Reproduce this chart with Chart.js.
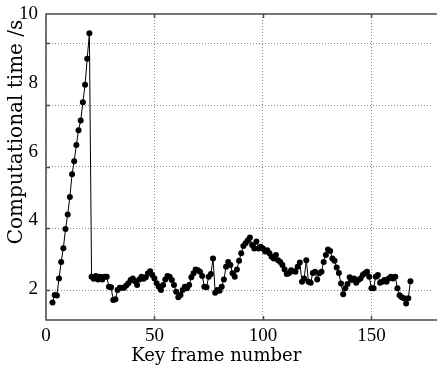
<!DOCTYPE html>
<html>
<head>
<meta charset="utf-8">
<script src="https://cdn.jsdelivr.net/npm/chart.js@4/dist/chart.umd.min.js"></script>
<style>
  html, body { margin: 0; padding: 0; background: #fff; }
  canvas { display: block; }
</style>
</head>
<body>
<canvas id="c" width="437" height="368"></canvas>
<script>
const frames = [
  3, 4, 5, 6, 7, 8, 9, 10, 11, 12, 13, 14, 15, 16, 17, 18, 19, 20,
  21, 22, 23, 24, 25, 26, 27, 28, 29, 30, 31, 32, 33, 34, 35, 36, 37, 38, 39, 40,
  41, 42, 43, 44, 45, 46, 47, 48, 49, 50, 51, 52, 53, 54, 55, 56, 57, 58, 59, 60,
  61, 62, 63, 64, 65, 66, 67, 68, 69, 70, 71, 72, 73, 74, 75, 76, 77, 78, 79, 80,
  81, 82, 83, 84, 85, 86, 87, 88, 89, 90, 91, 92, 93, 94, 95, 96, 97, 98, 99, 100,
  101, 102, 103, 104, 105, 106, 107, 108, 109, 110, 111, 112, 113, 114, 115, 116, 117, 118, 119, 120,
  121, 122, 123, 124, 125, 126, 127, 128, 129, 130, 131, 132, 133, 134, 135, 136, 137, 138, 139, 140,
  141, 142, 143, 144, 145, 146, 147, 148, 149, 150, 151, 152, 153, 154, 155, 156, 157, 158, 159, 160,
  161, 162, 163, 164, 165, 166, 167, 168
];
const times = [
  1.61, 1.83, 1.81, 2.31, 2.79, 3.19, 3.75, 4.17, 4.68, 5.34, 5.72, 6.19, 6.62, 6.90, 7.43, 7.94, 8.70, 9.44,
  2.36, 2.30, 2.38, 2.28, 2.36, 2.28, 2.36, 2.36, 2.07, 2.05, 1.68, 1.70, 1.97, 2.04, 2.04, 2.04, 2.10, 2.17, 2.26, 2.31,
  2.23, 2.12, 2.28, 2.36, 2.30, 2.34, 2.46, 2.52, 2.41, 2.31, 2.17, 2.07, 1.97, 2.12, 2.28, 2.38, 2.36, 2.26, 2.12, 1.92,
  1.76, 1.83, 1.97, 2.07, 2.02, 2.12, 2.34, 2.46, 2.57, 2.55, 2.50, 2.38, 2.07, 2.05, 2.36, 2.44, 2.89, 1.89, 1.97, 1.95,
  2.07, 2.28, 2.65, 2.79, 2.70, 2.46, 2.36, 2.57, 2.82, 3.04, 3.25, 3.33, 3.41, 3.50, 3.28, 3.18, 3.38, 3.18, 3.23, 3.18,
  3.09, 3.13, 3.04, 2.94, 2.89, 2.99, 2.84, 2.79, 2.70, 2.57, 2.44, 2.46, 2.55, 2.52, 2.50, 2.65, 2.77, 2.21, 2.31, 2.84,
  2.21, 2.18, 2.47, 2.50, 2.28, 2.46, 2.50, 2.79, 2.99, 3.15, 3.11, 2.89, 2.82, 2.63, 2.47, 2.16, 1.85, 2.02, 2.15, 2.34,
  2.26, 2.31, 2.18, 2.26, 2.31, 2.41, 2.46, 2.50, 2.36, 2.02, 2.02, 2.36, 2.41, 2.18, 2.21, 2.26, 2.21, 2.31, 2.36, 2.31,
  2.36, 2.02, 1.82, 1.76, 1.73, 1.58, 1.73, 2.23
];
const xTicks = [0, 50, 100, 150];
const yTickLabels = [2, 4, 6, 8, 10];
const yGridValues = [1.97, 3.77, 5.56, 7.35, 9.15];
const xTitle = 'Key frame number';
const yTitle = 'Computational time /s';

const points = frames.map((f, i) => ({ x: f, y: times[i] }));

const framePlugin = {
  id: 'frameBox',
  afterDraw(chart) {
    const { ctx, chartArea: a, scales } = chart;
    ctx.save();
    ctx.strokeStyle = '#4a4a4a';
    ctx.lineWidth = 1.5;
    ctx.beginPath();
    xTicks.forEach(v => {
      if (v === 0) return;
      const px = Math.round(scales.x.getPixelForValue(v)) + 0.5;
      ctx.moveTo(px, a.bottom); ctx.lineTo(px, a.bottom - 4);
      ctx.moveTo(px, a.top); ctx.lineTo(px, a.top + 4);
    });
    yGridValues.forEach(v => {
      const py = Math.round(scales.y2.getPixelForValue(v)) + 0.5;
      ctx.moveTo(a.left, py); ctx.lineTo(a.left + 4, py);
    });
    // box without right edge (reference plot runs past the picture edge)
    ctx.moveTo(a.right + 5, a.top); ctx.lineTo(a.left, a.top);
    ctx.lineTo(a.left, a.bottom); ctx.lineTo(a.right + 5, a.bottom);
    ctx.stroke();
    // axis titles, placed as in the reference
    ctx.fillStyle = '#000';
    ctx.textAlign = 'center';
    ctx.textBaseline = 'middle';
    ctx.font = '18px "DejaVu Serif"';
    ctx.fillText(xTitle, scales.x.getPixelForValue(78.5), 356);
    ctx.translate(17, 132);
    ctx.rotate(-Math.PI / 2);
    ctx.font = '20px "DejaVu Serif"';
    ctx.fillText(yTitle, 0, 0);
    ctx.restore();
  }
};

new Chart(document.getElementById('c'), {
  type: 'line',
  data: {
    datasets: [{
      data: points,
      borderColor: '#000',
      borderWidth: 1,
      backgroundColor: '#000',
      pointBackgroundColor: '#000',
      pointBorderWidth: 0,
      pointRadius: 3,
      tension: 0,
      yAxisID: 'y'
    }]
  },
  options: {
    responsive: false,
    animation: false,
    devicePixelRatio: 1,
    layout: { padding: { top: 14, right: 0, left: 0, bottom: 0 } },
    plugins: { legend: { display: false }, tooltip: { enabled: false } },
    scales: {
      x: {
        type: 'linear',
        min: 0,
        max: 178.4,
        afterBuildTicks: s => { s.ticks = xTicks.map(v => ({ value: v })); },
        afterFit: s => { s.height = 48; s.paddingLeft = 0; s.paddingRight = 0; },
        grid: { color: '#8a8a8a', drawTicks: false, lineWidth: 1 },
        border: { display: false, dash: [1, 2] },
        ticks: {
          color: '#000',
          padding: 5,
          maxRotation: 0,
          font: { family: 'Liberation Serif', size: 19 }
        },
        title: { display: false }
      },
      y: {
        type: 'linear',
        position: 'left',
        min: 1.1,
        max: 10,
        afterBuildTicks: s => { s.ticks = yTickLabels.map(v => ({ value: v })); },
        afterFit: s => { s.width = 46; s.paddingTop = 0; s.paddingBottom = 0; },
        grid: { display: false, drawTicks: false },
        border: { display: false },
        ticks: {
          color: '#000',
          padding: 8,
          font: { family: 'Liberation Serif', size: 19 }
        },
        title: { display: false }
      },
      y2: {
        type: 'linear',
        position: 'left',
        min: 1.1,
        max: 10,
        afterBuildTicks: s => { s.ticks = yGridValues.map(v => ({ value: v })); },
        afterFit: s => { s.width = 0; s.paddingTop = 0; s.paddingBottom = 0; },
        grid: { color: '#8a8a8a', drawTicks: false, lineWidth: 1 },
        border: { display: false, dash: [1, 2] },
        ticks: { display: false }
      }
    }
  },
  plugins: [framePlugin]
});
</script>
</body>
</html>
